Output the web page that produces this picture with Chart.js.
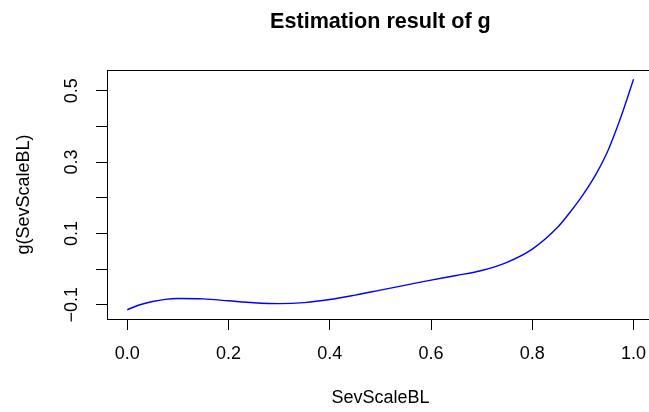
<!DOCTYPE html>
<html>
<head>
<meta charset="utf-8">
<script src="https://cdn.jsdelivr.net/npm/chart.js@4"></script>
<style>
  html, body { margin: 0; padding: 0; background: #fff; overflow: hidden; }
  #wrap { width: 649px; height: 412px; overflow: hidden; }
</style>
</head>
<body>
<div id="wrap"><canvas id="chart" width="660" height="412"></canvas></div>
<script>
// values
const sevScale = [0, 0.025, 0.05, 0.075, 0.1, 0.15, 0.2, 0.25, 0.3, 0.35, 0.4, 0.45, 0.5,
  0.55, 0.6, 0.65, 0.7, 0.75, 0.8, 0.85, 0.875, 0.9, 0.925, 0.95, 0.975, 1.0];
const gValues = [-0.114, -0.100, -0.091, -0.085, -0.0825, -0.0835, -0.089, -0.0945, -0.097,
  -0.094, -0.0855, -0.073, -0.059, -0.045, -0.031, -0.018, -0.004, 0.019, 0.056, 0.117,
  0.160, 0.208, 0.264, 0.334, 0.426, 0.532];
const xTicks = [0, 0.2, 0.4, 0.6, 0.8, 1.0];
const yTicks = [-0.1, 0, 0.1, 0.2, 0.3, 0.4, 0.5];
const yLabelled = [-0.1, 0.1, 0.3, 0.5];

const FONT = '"Liberation Sans", Arial, Helvetica, sans-serif';
Chart.defaults.font.family = FONT;
Chart.defaults.color = '#000';

// R style box around the plot region
const frame = {
  id: 'frame',
  afterDraw(chart) {
    const { ctx, chartArea: a } = chart;
    ctx.save();
    ctx.strokeStyle = '#000';
    ctx.lineWidth = 1;
    ctx.strokeRect(Math.round(a.left) + 0.5, Math.round(a.top) + 0.5,
      Math.round(a.right - a.left), Math.round(a.bottom - a.top));
    ctx.restore();
  }
};

const fmt = v => {
  const s = v.toFixed(1);
  return v < 0 ? '\u2212' + s.slice(1) : s;
};

new Chart(document.getElementById('chart'), {
  type: 'line',
  data: {
    datasets: [{
      data: sevScale.map((x, i) => ({ x, y: gValues[i] })),
      borderColor: '#0000ff',
      borderWidth: 1.4,
      pointRadius: 0,
      cubicInterpolationMode: 'monotone',
      fill: false
    }]
  },
  options: {
    responsive: false,
    animation: false,
    devicePixelRatio: 1,
    layout: { padding: { left: 0, right: 5, top: 0, bottom: 0 } },
    plugins: {
      legend: { display: false },
      tooltip: { enabled: false },
      title: {
        display: true,
        fullSize: false,
        text: 'Estimation result of g',
        font: { size: 21.6, weight: 'bold' },
        color: '#000',
        padding: { top: 9.5, bottom: 34.6 }
      }
    },
    scales: {
      x: {
        type: 'linear',
        min: -0.04,
        max: 1.04,
        afterBuildTicks: s => { s.ticks = xTicks.map(v => ({ value: v })); },
        afterFit: s => { s.height = 93; },
        grid: { display: true, drawOnChartArea: false, drawTicks: true, tickLength: 11, color: '#000' },
        border: { display: true, color: '#000' },
        ticks: { font: { size: 18 }, padding: 13.7, maxRotation: 0, callback: v => fmt(v) },
        title: { display: true, text: 'SevScaleBL', font: { size: 18 }, padding: { top: 0, bottom: 3.4 } }
      },
      y: {
        type: 'linear',
        min: -0.14,
        max: 0.558,
        afterBuildTicks: s => { s.ticks = yTicks.map(v => ({ value: v })); },
        afterFit: s => { s.width = 107; },
        grid: { display: true, drawOnChartArea: false, drawTicks: true, tickLength: 11, color: '#000' },
        border: { display: true, color: '#000' },
        ticks: {
          font: { size: 18 },
          padding: 5.9,
          minRotation: 90,
          maxRotation: 90,
          crossAlign: 'center',
          callback: v => yLabelled.some(l => Math.abs(l - v) < 1e-9) ? fmt(v) : ''
        },
        title: { display: true, text: 'g(SevScaleBL)', font: { size: 18 }, padding: { top: 13.4, bottom: 0 } }
      }
    }
  },
  plugins: [frame]
});
</script>
</body>
</html>
